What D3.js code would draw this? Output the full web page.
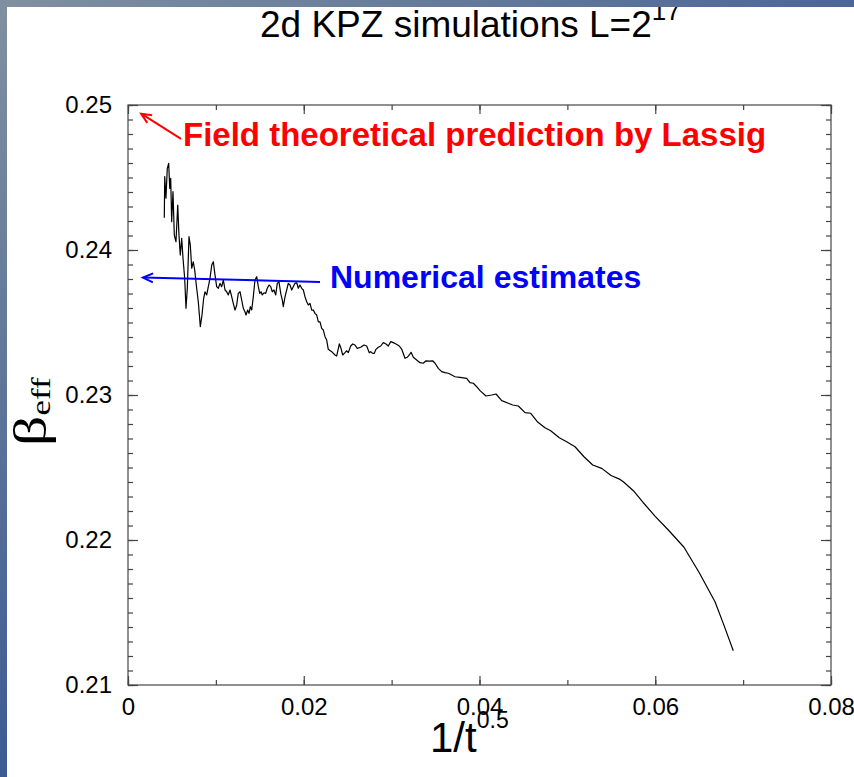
<!DOCTYPE html>
<html>
<head>
<meta charset="utf-8">
<script src="https://cdn.jsdelivr.net/npm/d3@7"></script>
<style>
  body { margin: 0; background: #fff; }
  svg { display: block; font-family: "Liberation Sans", Arial, Helvetica, sans-serif; }
</style>
</head>
<body>
<svg width="854" height="777"></svg>
<script>
// 1/t^0.5 values
const invSqrtT = [
    0.00413, 0.00418, 0.00432, 0.00447, 0.00463, 0.00475, 0.00486, 0.00497, 0.00512, 0.00527,
    0.00546, 0.00566, 0.00580, 0.00595, 0.00611, 0.00626, 0.00645, 0.00660, 0.00675, 0.00694,
    0.00709, 0.00725, 0.00743, 0.00759, 0.00777, 0.00800, 0.00823, 0.00842, 0.00861, 0.00876,
    0.00896, 0.00914, 0.00933, 0.00953, 0.00971, 0.00990, 0.01009, 0.01028, 0.01047, 0.01066,
    0.01085, 0.01104, 0.01123, 0.01141, 0.01161, 0.01180, 0.01198, 0.01218, 0.01237, 0.01255,
    0.01275, 0.01294, 0.01312, 0.01331, 0.01343, 0.01362, 0.01377, 0.01392, 0.01408, 0.01426,
    0.01445, 0.01465, 0.01483, 0.01499, 0.01514, 0.01528, 0.01548, 0.01567, 0.01585, 0.01605,
    0.01624, 0.01642, 0.01661, 0.01681, 0.01699, 0.01718, 0.01738, 0.01756, 0.01767, 0.01787,
    0.01806, 0.01824, 0.01844, 0.01863, 0.01881, 0.01900, 0.01920, 0.01938, 0.01957, 0.01977,
    0.01995, 0.02014, 0.02034, 0.02052, 0.02071, 0.02091, 0.02109, 0.02128, 0.02147, 0.02166,
    0.02185, 0.02204, 0.02223, 0.02242, 0.02261, 0.02279, 0.02318, 0.02356, 0.02375, 0.02405,
    0.02424, 0.02443, 0.02469, 0.02489, 0.02507, 0.02534, 0.02557, 0.02583, 0.02609, 0.02648,
    0.02686, 0.02716, 0.02746, 0.02762, 0.02785, 0.02803, 0.02822, 0.02848, 0.02876, 0.02905,
    0.02936, 0.02962, 0.02990, 0.03019, 0.03050, 0.03087, 0.03115, 0.03152, 0.03178, 0.03201,
    0.03221, 0.03247, 0.03285, 0.03323, 0.03360, 0.03391, 0.03429, 0.03467, 0.03494, 0.03531,
    0.03570, 0.03607, 0.03645, 0.03684, 0.03721, 0.03778, 0.03854, 0.03892, 0.03930, 0.03968,
    0.04006, 0.04074, 0.04139, 0.04188, 0.04253, 0.04328, 0.04378, 0.04442, 0.04518, 0.04583,
    0.04658, 0.04745, 0.04810, 0.04908, 0.04992, 0.05087, 0.05189, 0.05288, 0.05391, 0.05497,
    0.05599, 0.05637, 0.05751, 0.05864, 0.05997, 0.06149, 0.06327, 0.06501, 0.06680, 0.06774,
    0.06888
];

// effective growth exponent beta_eff
const betaEff = [
    0.24223, 0.24506, 0.24357, 0.24563, 0.24598, 0.24425, 0.24494, 0.24195, 0.24402, 0.24103,
    0.24057, 0.24310, 0.24103, 0.23965, 0.24081, 0.23943, 0.23805, 0.23598, 0.23736, 0.24092,
    0.24034, 0.23874, 0.23919, 0.23862, 0.23759, 0.23643, 0.23471, 0.23552, 0.23667, 0.23712,
    0.23690, 0.23747, 0.23805, 0.23896, 0.23919, 0.23828, 0.23747, 0.23736, 0.23770, 0.23747,
    0.23793, 0.23724, 0.23712, 0.23690, 0.23724, 0.23678, 0.23632, 0.23586, 0.23621, 0.23701,
    0.23712, 0.23655, 0.23598, 0.23574, 0.23552, 0.23586, 0.23563, 0.23609, 0.23586, 0.23678,
    0.23793, 0.23816, 0.23747, 0.23701, 0.23712, 0.23690, 0.23705, 0.23701, 0.23736, 0.23759,
    0.23747, 0.23712, 0.23724, 0.23690, 0.23770, 0.23781, 0.23701, 0.23655, 0.23609, 0.23678,
    0.23724, 0.23770, 0.23759, 0.23724, 0.23747, 0.23770, 0.23774, 0.23736, 0.23759, 0.23736,
    0.23724, 0.23678, 0.23643, 0.23621, 0.23632, 0.23586, 0.23586, 0.23563, 0.23552, 0.23505,
    0.23505, 0.23460, 0.23448, 0.23402, 0.23379, 0.23315, 0.23299, 0.23276, 0.23269, 0.23352,
    0.23322, 0.23276, 0.23292, 0.23305, 0.23292, 0.23338, 0.23352, 0.23345, 0.23322, 0.23329,
    0.23345, 0.23338, 0.23292, 0.23299, 0.23287, 0.23287, 0.23315, 0.23329, 0.23338, 0.23361,
    0.23352, 0.23338, 0.23368, 0.23361, 0.23352, 0.23338, 0.23315, 0.23253, 0.23260, 0.23276,
    0.23294, 0.23260, 0.23241, 0.23223, 0.23219, 0.23236, 0.23234, 0.23236, 0.23219, 0.23184,
    0.23161, 0.23154, 0.23150, 0.23138, 0.23126, 0.23122, 0.23115, 0.23085, 0.23081, 0.23057,
    0.23030, 0.22993, 0.23000, 0.23007, 0.22961, 0.22943, 0.22931, 0.22924, 0.22878, 0.22874,
    0.22816, 0.22774, 0.22754, 0.22705, 0.22678, 0.22643, 0.22574, 0.22517, 0.22494, 0.22445,
    0.22418, 0.22402, 0.22340, 0.22257, 0.22165, 0.22069, 0.21950, 0.21774, 0.21574, 0.21425,
    0.21236
];

const xTicks = [0, 0.02, 0.04, 0.06, 0.08];
const xTickLabels = ["0", "0.02", "0.04", "0.06", "0.08"];
const yTicks = [0.21, 0.22, 0.23, 0.24, 0.25];
const yTickLabels = ["0.21", "0.22", "0.23", "0.24", "0.25"];

// annotation arrows: [tail x, tail y, tip x, tip y] in data units
const lassigArrow = [0.00603, 0.24766, 0.00150, 0.24940];
const estimateArrow = [0.02185, 0.23780, 0.00170, 0.23810];

const svg = d3.select("svg");
const width = +svg.attr("width");
const height = +svg.attr("height");

const margin = { left: 128, right: 23, top: 105, bottom: 92 };
const plotW = width - margin.left - margin.right;
const plotH = height - margin.top - margin.bottom;

const x = d3.scaleLinear().domain([0, 0.08]).range([margin.left, margin.left + plotW]);
const y = d3.scaleLinear().domain([0.21, 0.25]).range([margin.top + plotH, margin.top]);

// background frame gradients
const defs = svg.append("defs");
const gTop = defs.append("linearGradient").attr("id", "gTop");
gTop.append("stop").attr("offset", "0%").attr("stop-color", "#8090a0");
gTop.append("stop").attr("offset", "100%").attr("stop-color", "#4c6697");
const gLeft = defs.append("linearGradient").attr("id", "gLeft")
    .attr("x1", 0).attr("y1", 0).attr("x2", 0).attr("y2", 1);
gLeft.append("stop").attr("offset", "0%").attr("stop-color", "#8090a0");
gLeft.append("stop").attr("offset", "100%").attr("stop-color", "#3d5b92");

svg.append("rect").attr("width", width).attr("height", height).attr("fill", "#fff");

// title (superscript partly hidden by the top band, as in the original)
const title = svg.append("text")
    .attr("x", 260).attr("y", 37)
    .attr("font-size", 37)
    .attr("fill", "#000");
title.append("tspan").text("2d KPZ simulations L=2");
title.append("tspan").attr("font-size", 26).attr("dy", -17).text("17");

// frame
svg.append("rect")
    .attr("x", margin.left).attr("y", margin.top)
    .attr("width", plotW).attr("height", plotH)
    .attr("fill", "none").attr("stroke", "#555").attr("stroke-width", 1.3);

const tickColor = "#444";

function styleAxis(g) {
    g.select(".domain").remove();
    g.selectAll(".tick line").attr("stroke", tickColor).attr("stroke-width", 1.2);
    g.selectAll(".tick text").attr("fill", "#000").attr("font-size", 24)
        .attr("font-family", "'Liberation Sans', Arial, sans-serif");
}

const xMinor = d3.range(0, 0.0801, 0.01);
const yMinor = d3.range(0.21, 0.25001, 0.001);

// bottom
svg.append("g").attr("transform", `translate(0,${margin.top + plotH})`)
    .call(d3.axisBottom(x).tickValues(xMinor).tickSize(-5).tickFormat(""))
    .call(styleAxis);
svg.append("g").attr("transform", `translate(0,${margin.top + plotH})`)
    .call(d3.axisBottom(x).tickValues(xTicks).tickSize(-9).tickPadding(13)
        .tickFormat((d, i) => xTickLabels[i]))
    .call(styleAxis);
// top
svg.append("g").attr("transform", `translate(0,${margin.top})`)
    .call(d3.axisTop(x).tickValues(xMinor).tickSize(-5).tickFormat(""))
    .call(styleAxis);
svg.append("g").attr("transform", `translate(0,${margin.top})`)
    .call(d3.axisTop(x).tickValues(xTicks).tickSize(-9).tickFormat(""))
    .call(styleAxis);
// left
svg.append("g").attr("transform", `translate(${margin.left},0)`)
    .call(d3.axisLeft(y).tickValues(yMinor).tickSize(-5).tickFormat(""))
    .call(styleAxis);
svg.append("g").attr("transform", `translate(${margin.left},0)`)
    .call(d3.axisLeft(y).tickValues(yTicks).tickSize(-10).tickPadding(16)
        .tickFormat((d, i) => yTickLabels[i]))
    .call(styleAxis);
// right
svg.append("g").attr("transform", `translate(${margin.left + plotW},0)`)
    .call(d3.axisRight(y).tickValues(yMinor).tickSize(-5).tickFormat(""))
    .call(styleAxis);
svg.append("g").attr("transform", `translate(${margin.left + plotW},0)`)
    .call(d3.axisRight(y).tickValues(yTicks).tickSize(-10).tickFormat(""))
    .call(styleAxis);

// data curve
const line = d3.line().x(d => x(d[0])).y(d => y(d[1]));
svg.append("path")
    .datum(d3.zip(invSqrtT, betaEff))
    .attr("d", line)
    .attr("fill", "none")
    .attr("stroke", "#000")
    .attr("stroke-width", 1.2)
    .attr("stroke-linejoin", "round");

// arrows
function drawArrow(a, color) {
    const x1 = x(a[0]), y1 = y(a[1]), x2 = x(a[2]), y2 = y(a[3]);
    const ang = Math.atan2(y1 - y2, x1 - x2);
    const len = 11, spread = 0.42;
    svg.append("line")
        .attr("x1", x1).attr("y1", y1).attr("x2", x2).attr("y2", y2)
        .attr("stroke", color).attr("stroke-width", 2);
    svg.append("path")
        .attr("d", `M${x2 + len * Math.cos(ang - spread)},${y2 + len * Math.sin(ang - spread)}`
            + `L${x2},${y2}L${x2 + len * Math.cos(ang + spread)},${y2 + len * Math.sin(ang + spread)}`)
        .attr("fill", "none").attr("stroke", color).attr("stroke-width", 2);
}
drawArrow(lassigArrow, "#ff0000");
drawArrow(estimateArrow, "#0000ff");

svg.append("text")
    .attr("x", 183).attr("y", 146)
    .attr("font-size", 33).attr("font-weight", "bold")
    .attr("fill", "#ff0000")
    .text("Field theoretical prediction by Lassig");

svg.append("text")
    .attr("x", 330).attr("y", 288)
    .attr("font-size", 32).attr("font-weight", "bold")
    .attr("fill", "#0000ff")
    .text("Numerical estimates");

// axis labels
const yLab = svg.append("text")
    .attr("transform", "translate(46,446) rotate(-90) scale(1.3,1)")
    .style("font-family", "'Liberation Serif', 'Times New Roman', serif")
    .attr("fill", "#000");
yLab.append("tspan").attr("font-size", 46).text("β");
yLab.append("tspan").attr("font-size", 27).attr("dy", 4).text("eff");

const xLab = svg.append("text")
    .attr("x", 430).attr("y", 752)
    .attr("fill", "#000");
xLab.append("tspan").attr("font-size", 42).text("1/t");
xLab.append("tspan").attr("font-size", 23).attr("dy", -24).text("0.5");

// gradient bands along the top and left edges
svg.append("rect").attr("x", 0).attr("y", 0).attr("width", width).attr("height", 7)
    .attr("fill", "url(#gTop)");
svg.append("rect").attr("x", 0).attr("y", 0).attr("width", 7).attr("height", height)
    .attr("fill", "url(#gLeft)");
</script>
</body>
</html>
